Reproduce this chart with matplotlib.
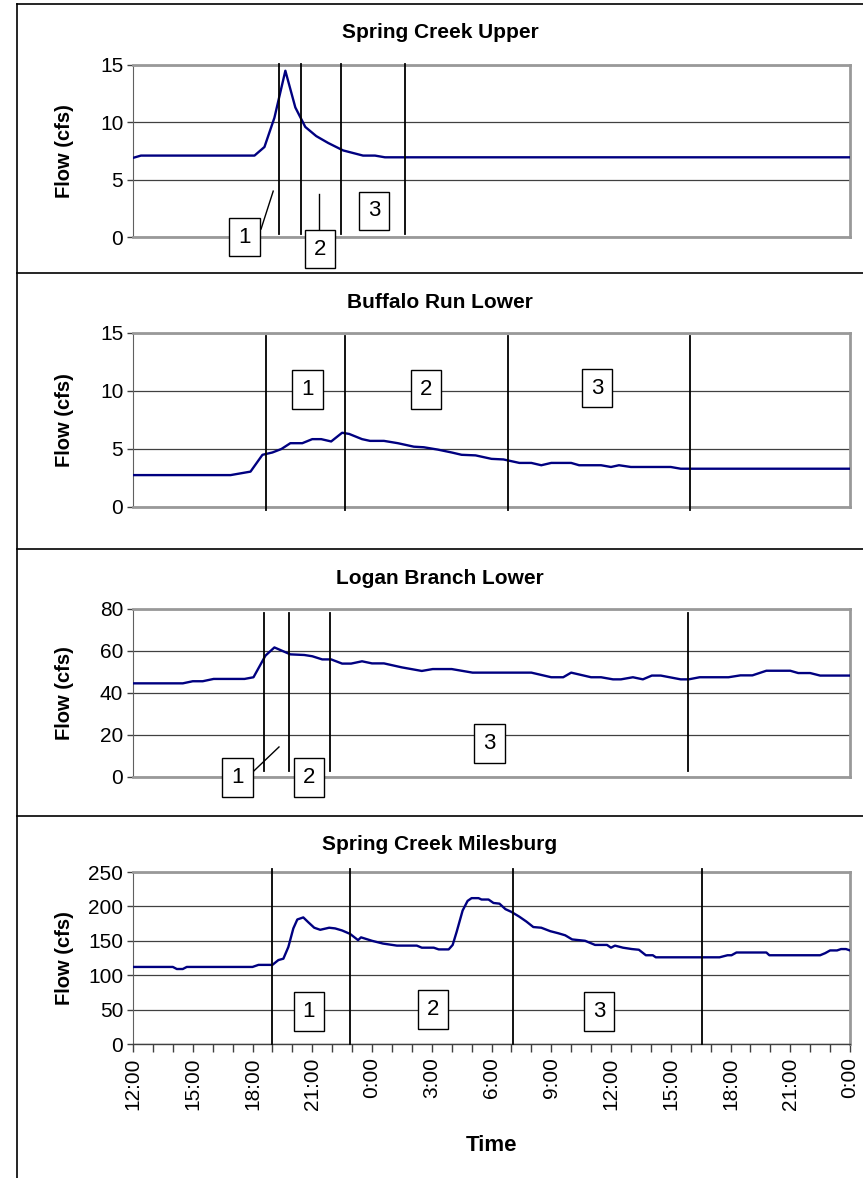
import matplotlib.pyplot as plt
from matplotlib.lines import Line2D

plt.rcParams['font.family'] = ['Liberation Sans', 'DejaVu Sans']

# time axis: hours after 12:00 on day one
time_ticks = [0, 3, 6, 9, 12, 15, 18, 21, 24, 27, 30, 33, 36]
time_labels = ['12:00', '15:00', '18:00', '21:00', '0:00', '3:00', '6:00',
               '9:00', '12:00', '15:00', '18:00', '21:00', '0:00']

# Spring Creek Upper
su_hours = [0, 0.4, 6.1, 6.6, 7.1, 7.65, 8.15, 8.65, 9.2, 9.8, 10.55, 11.55,
            12.15, 12.65, 36]
su_flow = [6.9, 7.1, 7.1, 7.85, 10.4, 14.5, 11.3, 9.6, 8.8, 8.2, 7.55, 7.1,
           7.1, 6.95, 6.95]
su_dividers = [7.33, 8.43, 10.45, 13.64]

# Buffalo Run Lower
br_hours = [0, 4.9, 5.9, 6.5, 7.0, 7.45, 7.9, 8.5, 9.0, 9.45, 9.95, 10.5,
            10.85, 11.5, 11.9, 12.6, 13.3, 14.1, 14.6, 15.3, 16.0, 16.5, 17.2,
            18.0, 18.6, 19.4, 20.0, 20.5, 21.0, 22.0, 22.4, 23.5, 24.0, 24.4,
            25.0, 27.0, 27.5, 36]
br_flow = [2.75, 2.75, 3.05, 4.5, 4.7, 5.0, 5.5, 5.5, 5.85, 5.85, 5.65, 6.4,
           6.3, 5.85, 5.7, 5.7, 5.5, 5.2, 5.15, 4.95, 4.7, 4.5, 4.45, 4.15,
           4.1, 3.8, 3.8, 3.6, 3.8, 3.8, 3.6, 3.6, 3.45, 3.6, 3.45, 3.45,
           3.3, 3.3]
br_dividers = [6.66, 10.66, 18.83, 27.98]

# Logan Branch Lower
lb_hours = [0, 2.5, 3.0, 3.5, 4.05, 5.6, 6.05, 6.65, 7.1, 7.9, 8.6, 9.0, 9.5,
            9.95, 10.5, 10.95, 11.5, 12.0, 12.6, 13.5, 14.5, 15.05, 16.0,
            17.05, 20.0, 21.0, 21.6, 22.0, 23.0, 23.5, 24.1, 24.5, 25.1, 25.6,
            26.05, 26.5, 27.5, 27.9, 28.45, 29.9, 30.5, 31.1, 31.8, 33.0,
            33.4, 34.0, 34.5, 36]
lb_flow = [44.6, 44.6, 45.6, 45.6, 46.7, 46.7, 47.5, 57.8, 61.7, 58.4, 58.1,
           57.5, 56.0, 56.0, 54.0, 54.0, 55.1, 54.1, 54.1, 52.2, 50.5, 51.4,
           51.4, 49.7, 49.7, 47.5, 47.5, 49.7, 47.5, 47.5, 46.5, 46.5, 47.5,
           46.5, 48.3, 48.3, 46.5, 46.5, 47.5, 47.5, 48.4, 48.4, 50.6, 50.6,
           49.5, 49.5, 48.3, 48.3]
lb_dividers = [6.57, 7.81, 9.89, 27.88]

# Spring Creek Milesburg
sm_hours = [0, 2.0, 2.2, 2.5, 2.7, 6.0, 6.3, 7.0, 7.3, 7.55, 7.8, 8.05, 8.25,
            8.55, 8.8, 9.1, 9.4, 9.85, 10.15, 10.5, 10.9, 11.3, 11.45, 12.0,
            12.55, 13.25, 14.25, 14.5, 15.1, 15.35, 15.85, 16.05, 16.25,
            16.55, 16.8, 17.0, 17.35, 17.5, 17.85, 18.1, 18.4, 18.7, 19.0,
            19.4, 19.75, 20.1, 20.5, 20.95, 21.35, 21.7, 22.05, 22.7, 23.2,
            23.8, 24.0, 24.2, 24.6, 25.05, 25.4, 25.75, 26.1, 26.25, 29.45,
            29.85, 30.05, 30.3, 31.8, 31.95, 34.5, 34.75, 35.0, 35.35, 35.55,
            35.8, 36]
sm_flow = [112, 112, 109, 109, 112, 112, 115, 115, 122, 124, 141, 168, 181,
           184, 177, 169, 166, 169, 168, 165, 160, 151, 155, 150, 146, 143,
           143, 140, 140, 137.5, 137.5, 144, 163, 194, 208, 212, 212, 210,
           210, 205, 204, 196, 192, 185, 178, 170, 169, 164, 161, 158, 152,
           150, 144, 144, 140, 143, 140, 138, 137, 129, 129, 126, 126, 129,
           129, 133, 133, 129, 129, 132, 136, 136, 138, 138, 136]
sm_dividers = [6.98, 10.89, 19.09, 28.57]

# (title, hours, flow, y max, y step, dividers, divider span, boxes, leaders, axes rect in px, panel top px)
panels = [
    ('Spring Creek Upper', su_hours, su_flow, 15, 5, su_dividers, (0.3, 15.05),
     [('1', 5.6, 0.0), ('2', 9.4, -1.05), ('3', 12.1, 2.27)],
     [((6.43, 7.04), (0.7, 4.0)), ((9.34, 9.34), (0.6, 3.75))],
     (133, 65, 850, 237), 4),
    ('Buffalo Run Lower', br_hours, br_flow, 15, 5, br_dividers, (-0.25, 14.7),
     [('1', 8.76, 10.1), ('2', 14.7, 10.1), ('3', 23.3, 10.25)],
     [],
     (133, 333, 850, 507), 273),
    ('Logan Branch Lower', lb_hours, lb_flow, 80, 20, lb_dividers, (2.7, 78),
     [('1', 5.25, -0.3), ('2', 8.85, -0.3), ('3', 17.9, 15.9)],
     [((5.96, 7.33), (1.9, 14.3))],
     (133, 609, 850, 777), 549),
    ('Spring Creek Milesburg', sm_hours, sm_flow, 250, 50, sm_dividers, (0, 254),
     [('1', 8.83, 47.3), ('2', 15.08, 49.7), ('3', 23.4, 46.8)],
     [],
     (133, 872, 850, 1044), 816),
]

W, H = 863, 1178
fig = plt.figure(figsize=(W / 100, H / 100), dpi=100)

for i, (title, hrs, flow, ymax, ystep, divs, span, boxes, leaders, rect, top) in enumerate(panels):
    x0, y0, x1, y1 = rect
    ax = fig.add_axes([x0 / W, 1 - y1 / H, (x1 - x0) / W, (y1 - y0) / H])
    ax.plot(hrs, flow, color='#000080', lw=1.7, zorder=3)
    ax.set_xlim(0, 36)
    ax.set_ylim(0, ymax)
    ax.set_yticks(range(0, ymax + 1, ystep))
    ax.yaxis.grid(True, color='#404040', lw=0.9)
    ax.set_axisbelow(True)
    ax.tick_params(axis='y', labelsize=15, length=4, width=1, color='#404040', pad=3)
    for side in ['top', 'right']:
        ax.spines[side].set_color('#999999')
        ax.spines[side].set_linewidth(2)
    ax.spines['left'].set_color('#606060')
    ax.spines['bottom'].set_color('#999999')
    ax.spines['bottom'].set_linewidth(2)
    ax.set_ylabel('Flow (cfs)', fontsize=14.5, fontweight='bold')
    ax.yaxis.set_label_coords(-0.082, 0.5)

    for d in divs:
        ax.plot([d, d], span, color='black', lw=1.3, zorder=4, clip_on=False)
    for (lx, ly) in leaders:
        ax.plot(lx, ly, color='black', lw=1, zorder=4, clip_on=False)
    for (lab, bx, by) in boxes:
        ax.text(bx, by, lab, fontsize=16, ha='center', va='center', zorder=5,
                clip_on=False,
                bbox=dict(boxstyle='square,pad=0.4', fc='white', ec='black', lw=1))

    if i < 3:
        ax.set_xticks([])
    else:
        ax.set_xticks(time_ticks)
        ax.set_xticklabels(time_labels, rotation=90, fontsize=15)
        ax.set_xticks(range(0, 37), minor=True)
        ax.tick_params(axis='x', which='both', length=6, width=1, color='#404040')
        ax.spines['bottom'].set_color('#404040')
        ax.spines['bottom'].set_linewidth(1)
        ax.set_xlabel('Time', fontsize=16, fontweight='bold', labelpad=18)

    fig.text(440 / W, 1 - (top + 29) / H, title, ha='center', va='center',
             fontsize=15, fontweight='bold')

# chart frames: left edge, top edge and separators between panels
fig.add_artist(Line2D([16.5 / W, 16.5 / W], [0, 1 - 4 / H], color='black', lw=1.2))
for yy in [4, 273, 549, 816]:
    fig.add_artist(Line2D([16.5 / W, 1], [1 - yy / H, 1 - yy / H], color='black', lw=1.2))

plt.savefig('out.png', dpi=100)
